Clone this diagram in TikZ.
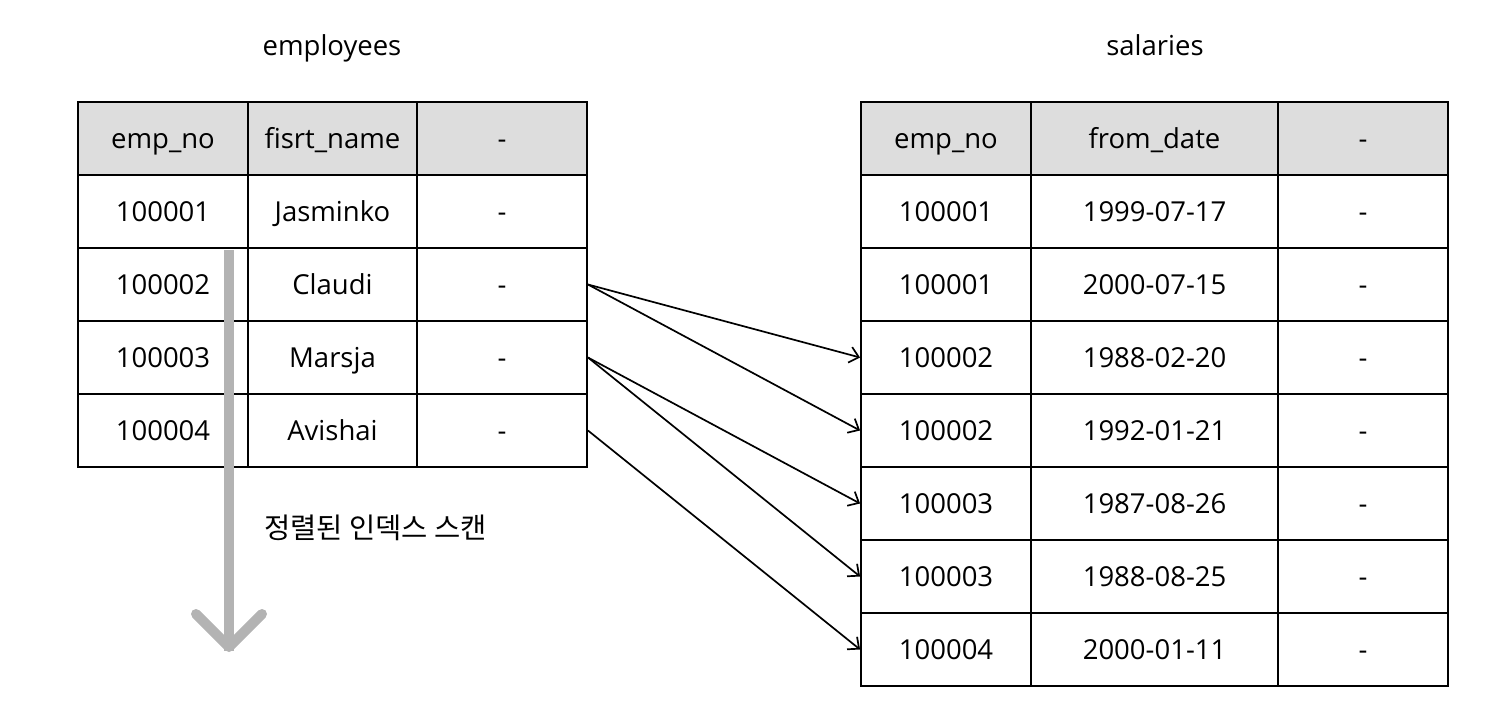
\documentclass[tikz,border=0pt]{standalone}
\usepackage{fontspec}
\setmainfont{Open Sans}
\newfontfamily\krfont{Noto Sans CJK KR}
\usetikzlibrary{arrows.meta}
\definecolor{hdr}{HTML}{DDDDDD}
\definecolor{scan}{HTML}{B3B3B3}
\tikzset{
  cell/.style={draw=black, line width=1.9pt, inner sep=0pt, minimum height=73pt,
    text height=19.8pt, text depth=0pt, font=\fontsize{27.5}{32}\selectfont},
  hcell/.style={cell, fill=hdr},
  link/.style={draw=black, line width=1.7pt, -{Straight Barb[length=9pt,width=16pt,line width=1.7pt]}},
  title/.style={inner sep=0pt, text height=19.8pt, text depth=0pt, font=\fontsize{27.5}{32}\selectfont},
}
\begin{document}
\begin{tikzpicture}[x=1pt,y=-1pt]
\useasboundingbox (0,0) rectangle (1512,722);
% titles
\node[title] (t1) at (332,46) {employees};
\node[title] (t2) at (1155,46) {salaries};
% employees table
\node[hcell, minimum width=170pt] (e-0-1) at (163,138.5) {emp\_no};
\node[hcell, minimum width=169pt] (e-0-2) at (332.5,138.5) {fisrt\_name};
\node[hcell, minimum width=170pt] (e-0-3) at (502,138.5) {-};
\foreach \r/\a/\b in {1/100001/Jasminko,2/100002/Claudi,3/100003/Marsja,4/100004/Avishai}{
  \node[cell, minimum width=170pt] (e-\r-1) at (163,138.5+73*\r) {\a};
  \node[cell, minimum width=169pt] (e-\r-2) at (332.5,138.5+73*\r) {\b};
  \node[cell, minimum width=170pt] (e-\r-3) at (502,138.5+73*\r) {-};
}
% salaries table
\node[hcell, minimum width=170pt] (s-0-1) at (946,138.5) {emp\_no};
\node[hcell, minimum width=247pt] (s-0-2) at (1154.5,138.5) {from\_date};
\node[hcell, minimum width=170pt] (s-0-3) at (1363,138.5) {-};
\foreach \r/\a/\b in {1/100001/1999-07-17,2/100001/2000-07-15,3/100002/1988-02-20,4/100002/1992-01-21,5/100003/1987-08-26,6/100003/1988-08-25,7/100004/2000-01-11}{
  \node[cell, minimum width=170pt] (s-\r-1) at (946,138.5+73*\r) {\a};
  \node[cell, minimum width=247pt] (s-\r-2) at (1154.5,138.5+73*\r) {\b};
  \node[cell, minimum width=170pt] (s-\r-3) at (1363,138.5+73*\r) {-};
}
% connectors
\draw[link] (e-2-3.east) -- (s-3-1.west);
\draw[link] (e-2-3.east) -- (s-4-1.west);
\draw[link] (e-3-3.east) -- (s-5-1.west);
\draw[link] (e-3-3.east) -- (s-6-1.west);
\draw[link] (e-4-3.east) -- (s-7-1.west);
% scan arrow
\coordinate (scanstart) at (229,250);
\coordinate (scanend) at (229,647);
\coordinate (hl) at (196,614);
\coordinate (hr) at (262,614);
\draw[scan, line width=10pt] (scanstart) -- ([yshift=-4pt]scanend);
\draw[scan, line width=10pt, line cap=round, line join=round] (hl) -- (scanend) -- (hr);
\node[font=\krfont\fontsize{28.5}{32}\selectfont, anchor=west, inner sep=0pt] (lbl) at (264,528) {정렬된 인덱스 스캔};
\end{tikzpicture}
\end{document}
